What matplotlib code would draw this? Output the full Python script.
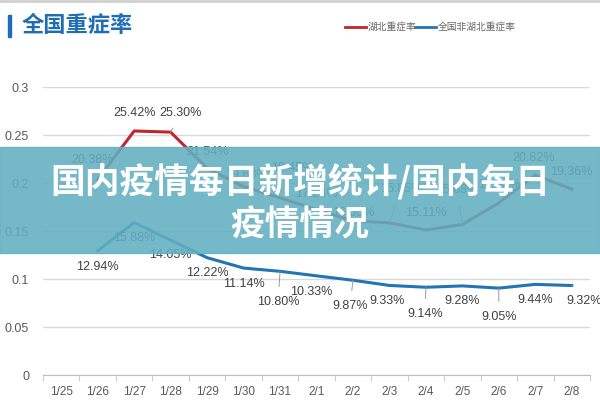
import numpy as np
import matplotlib
matplotlib.use('Agg')
import matplotlib.pyplot as plt
from matplotlib.patches import Rectangle
from matplotlib.lines import Line2D

plt.rcParams['font.family'] = ['Liberation Sans', 'Noto Sans CJK SC', 'DejaVu Sans']

# data (percent)
dates = ['1/25', '1/26', '1/27', '1/28', '1/29', '1/30', '1/31', '2/1',
         '2/2', '2/3', '2/4', '2/5', '2/6', '2/7', '2/8']
hubei = [np.nan, 20.38, 25.42, 25.30, 21.54, 19.63, 18.45, 17.24,
         16.05, 15.85, 15.11, 15.68, 17.93, 20.82, 19.36]
other = [np.nan, 12.94, 15.88, 14.05, 12.22, 11.14, 10.80, 10.33,
         9.87, 9.33, 9.14, 9.28, 9.05, 9.44, 9.32]

title = '全国重症率'
legend_names = ['湖北重症率', '全国非湖北重症率']
banner_lines = ['国内疫情每日新增统计/国内每日', '疫情情况']

# label offsets in pixels (dx, dy)
hubei_off = [None, (-5, 19), (0, 18), (10, 19), (0, 16), (3, 12), (12, 30), (0, 15),
             (0, 8), (12, 34), (0, 17), (-5, 34), (0, 18), (-2, 17), (0, 17)]
other_off = [None, (0, -16), (0, -15), (0, -15), (0, -15), (0, -16), (-2, -31), (-5, -16),
             (-3, -26), (-2, -16), (-1, -27), (0, -15), (0, -29), (0, -16), (12, -15)]
leader_red = [3, 9, 11]
leader_blue = [6, 8, 10, 12, 14]

red = '#c0272d'
blue = '#2374b5'

fig = plt.figure(figsize=(6, 4), dpi=100)
ax = fig.add_axes([43 / 600, 1 - 375 / 400, 547 / 600, 288 / 400])

x = np.arange(len(dates))
h = np.array(hubei) / 100
o = np.array(other) / 100
ax.plot(x, h, color=red, lw=2.2, zorder=3)
ax.plot(x, o, color=blue, lw=2.2, zorder=3)

for i in range(len(dates)):
    if not np.isnan(h[i]):
        dx, dy = hubei_off[i]
        ax.annotate(f'{hubei[i]:.2f}%', (x[i], h[i]), xytext=(dx, dy),
                    textcoords='offset pixels', ha='center', va='center',
                    fontsize=9, color='#404040', zorder=4,
                    arrowprops=dict(arrowstyle='-', color='#999999', lw=0.7,
                                    shrinkA=5, shrinkB=0) if i in leader_red else None)
    if not np.isnan(o[i]):
        dx, dy = other_off[i]
        ax.annotate(f'{other[i]:.2f}%', (x[i], o[i]), xytext=(dx, dy),
                    textcoords='offset pixels', ha='center', va='center',
                    fontsize=9, color='#404040', zorder=4,
                    arrowprops=dict(arrowstyle='-', color='#999999', lw=0.7,
                                    shrinkA=5, shrinkB=0) if i in leader_blue else None)

ax.set_xlim(-0.5, len(dates) - 0.5)
ax.set_ylim(0, 0.3)
ax.set_yticks([0, 0.05, 0.1, 0.15, 0.2, 0.25, 0.3])
ax.set_yticklabels(['0', '0.05', '0.1', '0.15', '0.2', '0.25', '0.3'])
ax.set_xticks(x)
ax.set_xticklabels(dates)
ax.set_xticks(np.arange(-0.5, len(dates)), minor=True)
ax.tick_params(axis='x', which='major', length=0, pad=8, labelsize=8.5, labelcolor='#595959')
ax.tick_params(axis='x', which='minor', length=4, color='#bfbfbf')
ax.tick_params(axis='y', length=0, pad=10, labelsize=9, labelcolor='#595959')
ax.grid(axis='y', color='#d9d9d9', lw=1)
ax.set_axisbelow(True)
for s in ['top', 'right', 'left']:
    ax.spines[s].set_visible(False)
ax.spines['bottom'].set_color('#bfbfbf')

# title and legend
fig.add_artist(Rectangle((8 / 600, 1 - 37 / 400), 3 / 600, 22 / 400,
                         transform=fig.transFigure, color='#1f6db3'))
fig.text(22 / 600, 1 - 26 / 400, title, fontsize=16, fontweight='bold',
         color='#1f6db3', va='center', family=['Noto Sans CJK SC'])
ly = 1 - 27 / 400
fig.add_artist(Line2D([345 / 600, 366 / 600], [ly, ly], color=red, lw=2, transform=fig.transFigure))
fig.text(368 / 600, ly, legend_names[0], fontsize=7, color='#666666', va='center',
         family=['Noto Sans CJK SC'])
fig.add_artist(Line2D([415 / 600, 436 / 600], [ly, ly], color=blue, lw=2, transform=fig.transFigure))
fig.text(438 / 600, ly, legend_names[1], fontsize=7, color='#666666', va='center',
         family=['Noto Sans CJK SC'])
fig.add_artist(Line2D([0, 1], [0.997, 0.997], color='#d0d0d0', lw=2, transform=fig.transFigure))

# overlay banner
fig.add_artist(Rectangle((0, 1 - 253 / 400), 1, 106 / 400, transform=fig.transFigure,
                         color='#62b0c1', alpha=0.88, zorder=5))
fig.text(0.5, 1 - 182 / 400, banner_lines[0], fontsize=25, fontweight='black', color='white',
         ha='center', va='center', zorder=6, family=['Noto Sans CJK SC'])
fig.text(0.5, 1 - 225 / 400, banner_lines[1], fontsize=25, fontweight='black', color='white',
         ha='center', va='center', zorder=6, family=['Noto Sans CJK SC'])

fig.savefig('out.png', dpi=100)
